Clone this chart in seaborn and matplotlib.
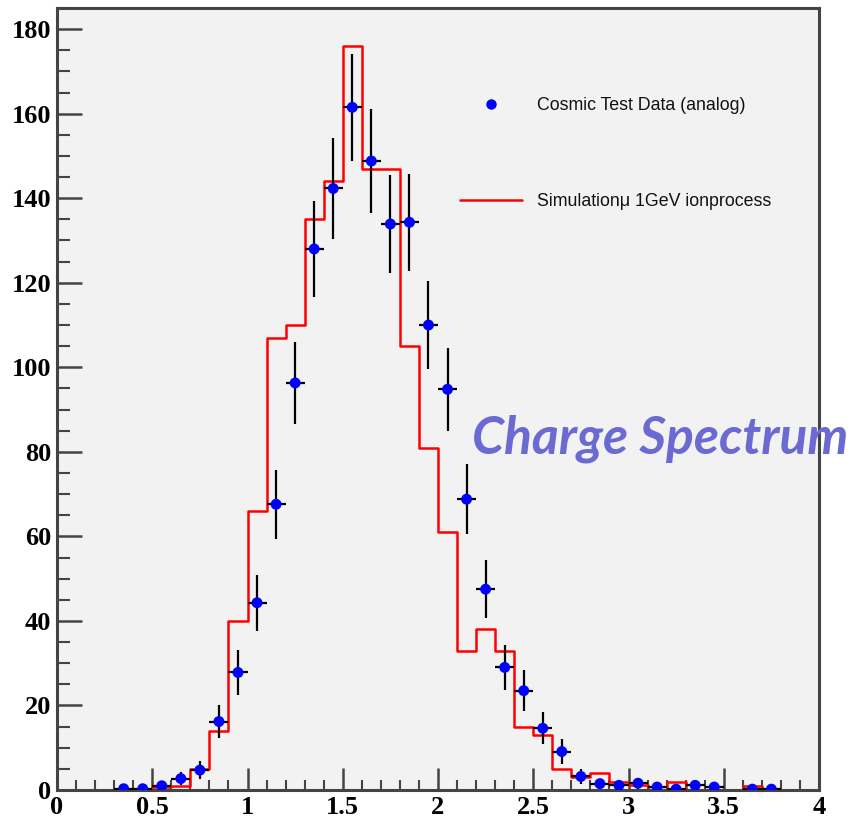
import numpy as np
import matplotlib
matplotlib.use("Agg")
import matplotlib.pyplot as plt
import seaborn as sns
from matplotlib.lines import Line2D

# ---- data ----
bin_edges = [round(0.1 * i, 1) for i in range(41)]
sim_values = [0, 0, 0, 0, 0, 0.8, 1.0, 5, 14, 40,
              66, 107, 110, 135, 144, 176, 147, 147, 105, 81,
              61, 33, 38, 33, 15, 13, 5, 3, 4, 1.8,
              1.2, 0, 2, 0, 0, 0, 1, 0, 0, 0]
data_x = [0.35, 0.45, 0.55, 0.65, 0.75, 0.85, 0.95, 1.05, 1.15, 1.25,
          1.35, 1.45, 1.55, 1.65, 1.75, 1.85, 1.95, 2.05, 2.15, 2.25,
          2.35, 2.45, 2.55, 2.65, 2.75, 2.85, 2.95, 3.05, 3.15, 3.25,
          3.35, 3.45, 3.65, 3.75]
data_y = [0.3, 0.3, 1.0, 2.7, 4.7, 16.2, 27.8, 44.3, 67.6, 96.3,
          128, 142.3, 161.5, 148.8, 133.9, 134.3, 110, 94.8, 68.8, 47.5,
          29.0, 23.5, 14.6, 9.1, 3.2, 1.5, 1.1, 1.6, 0.7, 0.2,
          1.1, 0.7, 0.2, 0.2]
data_err = [0.5, 0.5, 1.0, 1.6, 2.2, 4.0, 5.3, 6.6, 8.2, 9.6,
            11.3, 12.0, 12.7, 12.2, 11.6, 11.5, 10.5, 9.8, 8.3, 6.9,
            5.4, 4.8, 3.8, 3.0, 1.8, 1.2, 1.0, 1.3, 0.8, 0.4,
            1.0, 0.8, 0.4, 0.4]
half_bin = 0.05
x_ticks = [0, 0.5, 1, 1.5, 2, 2.5, 3, 3.5, 4]
x_tick_labels = ['0', '0.5', '1', '1.5', '2', '2.5', '3', '3.5', '4']
y_ticks = [0, 20, 40, 60, 80, 100, 120, 140, 160, 180]
legend_labels = ['Cosmic Test Data (analog)', 'Simulation\u03bc 1GeV ionprocess']
annotation = 'Charge Spectrum'

sns.set_theme(style="ticks")
plt.rcParams['font.family'] = ['Liberation Sans', 'DejaVu Sans']

fig = plt.figure(figsize=(8.52, 8.21), dpi=100)
ax = fig.add_axes([57 / 852, 31 / 821, 762 / 852, 782 / 821])
ax.set_facecolor('#f2f2f2')

centers = [e + half_bin for e in bin_edges[:-1]]
sns.histplot(x=centers, weights=sim_values, bins=bin_edges, element='step',
             fill=False, color='#ff0000', linewidth=1.8, ax=ax, zorder=2)

ax.errorbar(data_x, data_y, yerr=data_err, xerr=half_bin, fmt='none',
            ecolor='black', elinewidth=1.6, capsize=0, zorder=3)
sns.scatterplot(x=data_x, y=data_y, color='#0000ff', s=62, edgecolor='none',
                ax=ax, zorder=4)

ax.set_xlim(0, 4)
ax.set_ylim(0, 185)
ax.set_xlabel('')
ax.set_ylabel('')
ax.set_xticks(x_ticks)
ax.set_xticklabels(x_tick_labels)
ax.set_yticks(y_ticks)
ax.xaxis.set_minor_locator(matplotlib.ticker.MultipleLocator(0.1))
ax.yaxis.set_minor_locator(matplotlib.ticker.MultipleLocator(5))

ax.tick_params(axis='both', which='both', direction='in', color='#444444',
               top=False, right=False)
ax.tick_params(axis='both', which='major', width=1.8)
ax.tick_params(axis='x', which='major', length=16, pad=4)
ax.tick_params(axis='y', which='major', length=18, pad=4)
ax.tick_params(axis='x', which='minor', length=7.5, width=1.5)
ax.tick_params(axis='y', which='minor', length=9, width=1.5)
for lab in ax.get_xticklabels() + ax.get_yticklabels():
    lab.set_fontfamily('Liberation Serif')
    lab.set_fontweight('bold')
    lab.set_fontsize(19)
    lab.set_color('black')
for sp in ax.spines.values():
    sp.set_visible(True)
    sp.set_color('#444444')
    sp.set_linewidth(2.2)

handles = [Line2D([], [], ls='none', marker='o', color='#0000ff', markersize=7.5,
                  markeredgewidth=0),
           Line2D([], [], color='#ff0000', lw=1.8)]
leg = ax.legend(handles, legend_labels, loc='upper left',
                bbox_to_anchor=(0.529, 0.886), frameon=False, fontsize=12.8,
                handlelength=3.5, handletextpad=0.8, labelspacing=4.46,
                borderpad=0, borderaxespad=0)
for t in leg.get_texts():
    t.set_color('#111111')

ax.text(2.178, 79.7, annotation, fontsize=37.2, fontstyle='italic',
        fontweight='bold', color='#6a6ad2', family=['Lato', 'DejaVu Sans'],
        va='baseline', ha='left', clip_on=False, zorder=5)

fig.savefig('out.png', dpi=100, facecolor='white')
